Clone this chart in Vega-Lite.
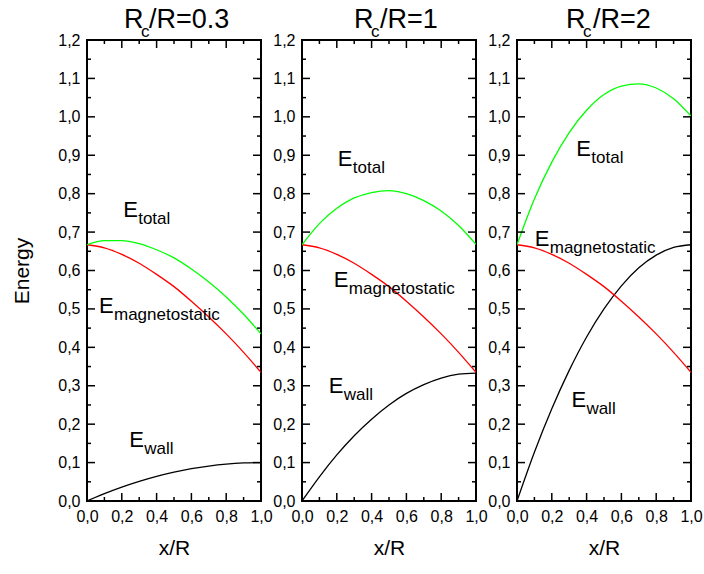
{
  "$schema": "https://vega.github.io/schema/vega-lite/v6.json",
  "background": "white",
  "padding": {"left": 10, "top": 5, "right": 5, "bottom": 5},
  "config": {
    "view": {"stroke": "black", "strokeWidth": 2, "fill": null},
    "font": "Liberation Sans",
    "axis": {
      "labelFont": "Liberation Sans", "titleFont": "Liberation Sans",
      "labelFontSize": 16, "titleFontSize": 21, "titleFontWeight": "normal",
      "labelColor": "black", "titleColor": "black",
      "domain": false, "ticks": false, "tickSize": 0, "grid": false,
      "labelOverlap": false, "labelFlush": false, "labelBound": false
    },
    "text": {"font": "Liberation Sans", "color": "black"}
  },
  "datasets": {
    "curves": [
      {"p":1,"x":0,"wall":0,"mag":0.667,"total":0.667},
      {"p":1,"x":0.1,"wall":0.019,"mag":0.659,"total":0.678},
      {"p":1,"x":0.2,"wall":0.036,"mag":0.642,"total":0.678},
      {"p":1,"x":0.3,"wall":0.051,"mag":0.619,"total":0.670},
      {"p":1,"x":0.4,"wall":0.064,"mag":0.590,"total":0.654},
      {"p":1,"x":0.5,"wall":0.075,"mag":0.558,"total":0.633},
      {"p":1,"x":0.6,"wall":0.084,"mag":0.520,"total":0.604},
      {"p":1,"x":0.7,"wall":0.091,"mag":0.479,"total":0.570},
      {"p":1,"x":0.8,"wall":0.096,"mag":0.435,"total":0.531},
      {"p":1,"x":0.9,"wall":0.099,"mag":0.387,"total":0.486},
      {"p":1,"x":1.0,"wall":0.100,"mag":0.335,"total":0.435},
      {"p":2,"x":0,"wall":0,"mag":0.667,"total":0.667},
      {"p":2,"x":0.1,"wall":0.063,"mag":0.659,"total":0.722},
      {"p":2,"x":0.2,"wall":0.120,"mag":0.642,"total":0.762},
      {"p":2,"x":0.3,"wall":0.170,"mag":0.619,"total":0.789},
      {"p":2,"x":0.4,"wall":0.213,"mag":0.590,"total":0.803},
      {"p":2,"x":0.5,"wall":0.250,"mag":0.558,"total":0.808},
      {"p":2,"x":0.6,"wall":0.280,"mag":0.520,"total":0.800},
      {"p":2,"x":0.7,"wall":0.303,"mag":0.479,"total":0.782},
      {"p":2,"x":0.8,"wall":0.320,"mag":0.435,"total":0.755},
      {"p":2,"x":0.9,"wall":0.330,"mag":0.387,"total":0.717},
      {"p":2,"x":1.0,"wall":0.333,"mag":0.335,"total":0.668},
      {"p":3,"x":0,"wall":0,"mag":0.667,"total":0.667},
      {"p":3,"x":0.1,"wall":0.127,"mag":0.659,"total":0.786},
      {"p":3,"x":0.2,"wall":0.240,"mag":0.642,"total":0.882},
      {"p":3,"x":0.3,"wall":0.340,"mag":0.619,"total":0.959},
      {"p":3,"x":0.4,"wall":0.427,"mag":0.590,"total":1.017},
      {"p":3,"x":0.5,"wall":0.500,"mag":0.558,"total":1.058},
      {"p":3,"x":0.6,"wall":0.560,"mag":0.520,"total":1.080},
      {"p":3,"x":0.7,"wall":0.607,"mag":0.479,"total":1.086},
      {"p":3,"x":0.8,"wall":0.640,"mag":0.435,"total":1.075},
      {"p":3,"x":0.9,"wall":0.660,"mag":0.387,"total":1.047},
      {"p":3,"x":1.0,"wall":0.667,"mag":0.335,"total":1.002}
    ],
    "labels": [
      {"p":1,"sub":"total","x":0.208,"y":0.739},
      {"p":1,"sub":"magnetostatic","x":0.069,"y":0.489},
      {"p":1,"sub":"wall","x":0.243,"y":0.141},
      {"p":2,"sub":"total","x":0.206,"y":0.872},
      {"p":2,"sub":"magnetostatic","x":0.183,"y":0.557},
      {"p":2,"sub":"wall","x":0.154,"y":0.281},
      {"p":3,"sub":"total","x":0.341,"y":0.898},
      {"p":3,"sub":"magnetostatic","x":0.102,"y":0.664},
      {"p":3,"sub":"wall","x":0.3125,"y":0.245}
    ],
    "titles": [
      {"p":1,"rest":"/R=0.3"},
      {"p":2,"rest":"/R=1"},
      {"p":3,"rest":"/R=2"}
    ],
    "xticks": [
      {"v":0.1,"kind":"minor"},{"v":0.2,"kind":"major"},{"v":0.3,"kind":"minor"},{"v":0.4,"kind":"major"},
      {"v":0.5,"kind":"minor"},{"v":0.6,"kind":"major"},{"v":0.7,"kind":"minor"},{"v":0.8,"kind":"major"},
      {"v":0.9,"kind":"minor"}
    ],
    "yticks": [
      {"v":0.05,"kind":"minor"},{"v":0.1,"kind":"major"},{"v":0.15,"kind":"minor"},{"v":0.2,"kind":"major"},
      {"v":0.25,"kind":"minor"},{"v":0.3,"kind":"major"},{"v":0.35,"kind":"minor"},{"v":0.4,"kind":"major"},
      {"v":0.45,"kind":"minor"},{"v":0.5,"kind":"major"},{"v":0.55,"kind":"minor"},{"v":0.6,"kind":"major"},
      {"v":0.65,"kind":"minor"},{"v":0.7,"kind":"major"},{"v":0.75,"kind":"minor"},{"v":0.8,"kind":"major"},
      {"v":0.85,"kind":"minor"},{"v":0.9,"kind":"major"},{"v":0.95,"kind":"minor"},{"v":1.0,"kind":"major"},
      {"v":1.05,"kind":"minor"},{"v":1.1,"kind":"major"},{"v":1.15,"kind":"minor"}
    ]
  },
  "bounds": "flush",
  "spacing": 41,
  "hconcat": [
    {
      "width": 174, "height": 461,
      "resolve": {"axis": {"x": "independent", "y": "independent"}},
      "layer": [
        {
          "data": {"name": "curves"},
          "transform": [{"filter": "datum.p == 1"}, {"fold": ["wall","mag","total"], "as": ["s","y"]}],
          "mark": {"type": "line", "interpolate": "monotone", "strokeWidth": 1.3, "clip": true},
          "encoding": {
            "x": {"field": "x", "type": "quantitative", "scale": {"domain": [0,1], "nice": false, "zero": false},
              "axis": {"orient": "bottom", "values": [0,0.2,0.4,0.6,0.8,1],
                "labelExpr": "replace(format(datum.value,'.1f'),'.',',')",
                "labelPadding": 7, "title": "x/R", "titlePadding": 13}},
            "y": {"field": "y", "type": "quantitative", "scale": {"domain": [0,1.2], "nice": false, "zero": false},
              "axis": {"orient": "left", "values": [0,0.1,0.2,0.3,0.4,0.5,0.6,0.7,0.8,0.9,1,1.1,1.2],
                "labelExpr": "replace(format(datum.value,'.1f'),'.',',')",
                "labelPadding": 7, "title": "Energy", "titlePadding": 25}},
            "color": {"field": "s", "type": "nominal", "scale": {"domain": ["wall","mag","total"], "range": ["#000000","#ff0000","#00ff00"]}, "legend": null}
          }
        },
        {
          "data": {"name": "xticks"},
          "mark": {"type": "tick", "orient": "vertical", "thickness": 1.5, "color": "black", "opacity": 1, "clip": true},
          "encoding": {"x": {"field": "v", "type": "quantitative", "axis": null}, "y": {"datum": 0, "type": "quantitative", "axis": null},
            "size": {"field": "kind", "type": "ordinal", "scale": {"domain": ["major","minor"], "range": [16, 8]}, "legend": null}}
        },
        {
          "data": {"name": "xticks"},
          "mark": {"type": "tick", "orient": "vertical", "thickness": 1.5, "color": "black", "opacity": 1, "clip": true},
          "encoding": {"x": {"field": "v", "type": "quantitative", "axis": null}, "y": {"datum": 1.2, "type": "quantitative", "axis": null},
            "size": {"field": "kind", "type": "ordinal", "scale": {"domain": ["major","minor"], "range": [16, 8]}, "legend": null}}
        },
        {
          "data": {"name": "yticks"},
          "mark": {"type": "tick", "orient": "horizontal", "thickness": 1.5, "color": "black", "opacity": 1, "clip": true},
          "encoding": {"y": {"field": "v", "type": "quantitative", "axis": null}, "x": {"datum": 0, "type": "quantitative", "axis": null},
            "size": {"field": "kind", "type": "ordinal", "scale": {"domain": ["major","minor"], "range": [16, 8]}, "legend": null}}
        },
        {
          "data": {"name": "yticks"},
          "mark": {"type": "tick", "orient": "horizontal", "thickness": 1.5, "color": "black", "opacity": 1, "clip": true},
          "encoding": {"y": {"field": "v", "type": "quantitative", "axis": null}, "x": {"datum": 1, "type": "quantitative", "axis": null},
            "size": {"field": "kind", "type": "ordinal", "scale": {"domain": ["major","minor"], "range": [16, 8]}, "legend": null}}
        },
        {
          "data": {"name": "labels"},
          "transform": [{"filter": "datum.p == 1"}],
          "mark": {"type": "text", "fontSize": 22, "align": "left", "baseline": "alphabetic"},
          "encoding": {"x": {"field": "x", "type": "quantitative", "axis": null}, "y": {"field": "y", "type": "quantitative", "axis": null}, "text": {"value": "E"}}
        },
        {
          "data": {"name": "labels"},
          "transform": [{"filter": "datum.p == 1"}],
          "mark": {"type": "text", "fontSize": 17, "align": "left", "baseline": "alphabetic", "dx": 15, "dy": 7},
          "encoding": {"x": {"field": "x", "type": "quantitative", "axis": null}, "y": {"field": "y", "type": "quantitative", "axis": null}, "text": {"field": "sub"}}
        },
        {
          "data": {"name": "titles"},
          "transform": [{"filter": "datum.p == 1"}],
          "mark": {"type": "text", "fontSize": 27, "align": "left", "baseline": "alphabetic", "dy": -12},
          "encoding": {"x": {"datum": 0.213, "type": "quantitative", "axis": null}, "y": {"datum": 1.2, "type": "quantitative", "axis": null}, "text": {"value": "R"}}
        },
        {
          "data": {"name": "titles"},
          "transform": [{"filter": "datum.p == 1"}],
          "mark": {"type": "text", "fontSize": 17, "align": "left", "baseline": "alphabetic", "dx": 17, "dy": -3},
          "encoding": {"x": {"datum": 0.213, "type": "quantitative", "axis": null}, "y": {"datum": 1.2, "type": "quantitative", "axis": null}, "text": {"value": "c"}}
        },
        {
          "data": {"name": "titles"},
          "transform": [{"filter": "datum.p == 1"}],
          "mark": {"type": "text", "fontSize": 27, "align": "left", "baseline": "alphabetic", "dx": 25, "dy": -12},
          "encoding": {"x": {"datum": 0.213, "type": "quantitative", "axis": null}, "y": {"datum": 1.2, "type": "quantitative", "axis": null}, "text": {"field": "rest"}}
        }
      ]
    },
    {
      "width": 174, "height": 461,
      "resolve": {"axis": {"x": "independent", "y": "independent"}},
      "layer": [
        {
          "data": {"name": "curves"},
          "transform": [{"filter": "datum.p == 2"}, {"fold": ["wall","mag","total"], "as": ["s","y"]}],
          "mark": {"type": "line", "interpolate": "monotone", "strokeWidth": 1.3, "clip": true},
          "encoding": {
            "x": {"field": "x", "type": "quantitative", "scale": {"domain": [0,1], "nice": false, "zero": false},
              "axis": {"orient": "bottom", "values": [0,0.2,0.4,0.6,0.8,1],
                "labelExpr": "replace(format(datum.value,'.1f'),'.',',')",
                "labelPadding": 7, "title": "x/R", "titlePadding": 13}},
            "y": {"field": "y", "type": "quantitative", "scale": {"domain": [0,1.2], "nice": false, "zero": false},
              "axis": {"orient": "left", "values": [0,0.1,0.2,0.3,0.4,0.5,0.6,0.7,0.8,0.9,1,1.1,1.2],
                "labelExpr": "replace(format(datum.value,'.1f'),'.',',')",
                "labelPadding": 7, "title": null}},
            "color": {"field": "s", "type": "nominal", "scale": {"domain": ["wall","mag","total"], "range": ["#000000","#ff0000","#00ff00"]}, "legend": null}
          }
        },
        {
          "data": {"name": "xticks"},
          "mark": {"type": "tick", "orient": "vertical", "thickness": 1.5, "color": "black", "opacity": 1, "clip": true},
          "encoding": {"x": {"field": "v", "type": "quantitative", "axis": null}, "y": {"datum": 0, "type": "quantitative", "axis": null},
            "size": {"field": "kind", "type": "ordinal", "scale": {"domain": ["major","minor"], "range": [16, 8]}, "legend": null}}
        },
        {
          "data": {"name": "xticks"},
          "mark": {"type": "tick", "orient": "vertical", "thickness": 1.5, "color": "black", "opacity": 1, "clip": true},
          "encoding": {"x": {"field": "v", "type": "quantitative", "axis": null}, "y": {"datum": 1.2, "type": "quantitative", "axis": null},
            "size": {"field": "kind", "type": "ordinal", "scale": {"domain": ["major","minor"], "range": [16, 8]}, "legend": null}}
        },
        {
          "data": {"name": "yticks"},
          "mark": {"type": "tick", "orient": "horizontal", "thickness": 1.5, "color": "black", "opacity": 1, "clip": true},
          "encoding": {"y": {"field": "v", "type": "quantitative", "axis": null}, "x": {"datum": 0, "type": "quantitative", "axis": null},
            "size": {"field": "kind", "type": "ordinal", "scale": {"domain": ["major","minor"], "range": [16, 8]}, "legend": null}}
        },
        {
          "data": {"name": "yticks"},
          "mark": {"type": "tick", "orient": "horizontal", "thickness": 1.5, "color": "black", "opacity": 1, "clip": true},
          "encoding": {"y": {"field": "v", "type": "quantitative", "axis": null}, "x": {"datum": 1, "type": "quantitative", "axis": null},
            "size": {"field": "kind", "type": "ordinal", "scale": {"domain": ["major","minor"], "range": [16, 8]}, "legend": null}}
        },
        {
          "data": {"name": "labels"},
          "transform": [{"filter": "datum.p == 2"}],
          "mark": {"type": "text", "fontSize": 22, "align": "left", "baseline": "alphabetic"},
          "encoding": {"x": {"field": "x", "type": "quantitative", "axis": null}, "y": {"field": "y", "type": "quantitative", "axis": null}, "text": {"value": "E"}}
        },
        {
          "data": {"name": "labels"},
          "transform": [{"filter": "datum.p == 2"}],
          "mark": {"type": "text", "fontSize": 17, "align": "left", "baseline": "alphabetic", "dx": 15, "dy": 7},
          "encoding": {"x": {"field": "x", "type": "quantitative", "axis": null}, "y": {"field": "y", "type": "quantitative", "axis": null}, "text": {"field": "sub"}}
        },
        {
          "data": {"name": "titles"},
          "transform": [{"filter": "datum.p == 2"}],
          "mark": {"type": "text", "fontSize": 27, "align": "left", "baseline": "alphabetic", "dy": -12},
          "encoding": {"x": {"datum": 0.299, "type": "quantitative", "axis": null}, "y": {"datum": 1.2, "type": "quantitative", "axis": null}, "text": {"value": "R"}}
        },
        {
          "data": {"name": "titles"},
          "transform": [{"filter": "datum.p == 2"}],
          "mark": {"type": "text", "fontSize": 17, "align": "left", "baseline": "alphabetic", "dx": 17, "dy": -3},
          "encoding": {"x": {"datum": 0.299, "type": "quantitative", "axis": null}, "y": {"datum": 1.2, "type": "quantitative", "axis": null}, "text": {"value": "c"}}
        },
        {
          "data": {"name": "titles"},
          "transform": [{"filter": "datum.p == 2"}],
          "mark": {"type": "text", "fontSize": 27, "align": "left", "baseline": "alphabetic", "dx": 26, "dy": -12},
          "encoding": {"x": {"datum": 0.299, "type": "quantitative", "axis": null}, "y": {"datum": 1.2, "type": "quantitative", "axis": null}, "text": {"field": "rest"}}
        }
      ]
    },
    {
      "width": 174, "height": 461,
      "resolve": {"axis": {"x": "independent", "y": "independent"}},
      "layer": [
        {
          "data": {"name": "curves"},
          "transform": [{"filter": "datum.p == 3"}, {"fold": ["wall","mag","total"], "as": ["s","y"]}],
          "mark": {"type": "line", "interpolate": "monotone", "strokeWidth": 1.3, "clip": true},
          "encoding": {
            "x": {"field": "x", "type": "quantitative", "scale": {"domain": [0,1], "nice": false, "zero": false},
              "axis": {"orient": "bottom", "values": [0,0.2,0.4,0.6,0.8,1],
                "labelExpr": "replace(format(datum.value,'.1f'),'.',',')",
                "labelPadding": 7, "title": "x/R", "titlePadding": 13}},
            "y": {"field": "y", "type": "quantitative", "scale": {"domain": [0,1.2], "nice": false, "zero": false},
              "axis": {"orient": "left", "values": [0,0.1,0.2,0.3,0.4,0.5,0.6,0.7,0.8,0.9,1,1.1,1.2],
                "labelExpr": "replace(format(datum.value,'.1f'),'.',',')",
                "labelPadding": 7, "title": null}},
            "color": {"field": "s", "type": "nominal", "scale": {"domain": ["wall","mag","total"], "range": ["#000000","#ff0000","#00ff00"]}, "legend": null}
          }
        },
        {
          "data": {"name": "xticks"},
          "mark": {"type": "tick", "orient": "vertical", "thickness": 1.5, "color": "black", "opacity": 1, "clip": true},
          "encoding": {"x": {"field": "v", "type": "quantitative", "axis": null}, "y": {"datum": 0, "type": "quantitative", "axis": null},
            "size": {"field": "kind", "type": "ordinal", "scale": {"domain": ["major","minor"], "range": [16, 8]}, "legend": null}}
        },
        {
          "data": {"name": "xticks"},
          "mark": {"type": "tick", "orient": "vertical", "thickness": 1.5, "color": "black", "opacity": 1, "clip": true},
          "encoding": {"x": {"field": "v", "type": "quantitative", "axis": null}, "y": {"datum": 1.2, "type": "quantitative", "axis": null},
            "size": {"field": "kind", "type": "ordinal", "scale": {"domain": ["major","minor"], "range": [16, 8]}, "legend": null}}
        },
        {
          "data": {"name": "yticks"},
          "mark": {"type": "tick", "orient": "horizontal", "thickness": 1.5, "color": "black", "opacity": 1, "clip": true},
          "encoding": {"y": {"field": "v", "type": "quantitative", "axis": null}, "x": {"datum": 0, "type": "quantitative", "axis": null},
            "size": {"field": "kind", "type": "ordinal", "scale": {"domain": ["major","minor"], "range": [16, 8]}, "legend": null}}
        },
        {
          "data": {"name": "yticks"},
          "mark": {"type": "tick", "orient": "horizontal", "thickness": 1.5, "color": "black", "opacity": 1, "clip": true},
          "encoding": {"y": {"field": "v", "type": "quantitative", "axis": null}, "x": {"datum": 1, "type": "quantitative", "axis": null},
            "size": {"field": "kind", "type": "ordinal", "scale": {"domain": ["major","minor"], "range": [16, 8]}, "legend": null}}
        },
        {
          "data": {"name": "labels"},
          "transform": [{"filter": "datum.p == 3"}],
          "mark": {"type": "text", "fontSize": 22, "align": "left", "baseline": "alphabetic"},
          "encoding": {"x": {"field": "x", "type": "quantitative", "axis": null}, "y": {"field": "y", "type": "quantitative", "axis": null}, "text": {"value": "E"}}
        },
        {
          "data": {"name": "labels"},
          "transform": [{"filter": "datum.p == 3"}],
          "mark": {"type": "text", "fontSize": 17, "align": "left", "baseline": "alphabetic", "dx": 15, "dy": 7},
          "encoding": {"x": {"field": "x", "type": "quantitative", "axis": null}, "y": {"field": "y", "type": "quantitative", "axis": null}, "text": {"field": "sub"}}
        },
        {
          "data": {"name": "titles"},
          "transform": [{"filter": "datum.p == 3"}],
          "mark": {"type": "text", "fontSize": 27, "align": "left", "baseline": "alphabetic", "dy": -12},
          "encoding": {"x": {"datum": 0.282, "type": "quantitative", "axis": null}, "y": {"datum": 1.2, "type": "quantitative", "axis": null}, "text": {"value": "R"}}
        },
        {
          "data": {"name": "titles"},
          "transform": [{"filter": "datum.p == 3"}],
          "mark": {"type": "text", "fontSize": 17, "align": "left", "baseline": "alphabetic", "dx": 17, "dy": -3},
          "encoding": {"x": {"datum": 0.282, "type": "quantitative", "axis": null}, "y": {"datum": 1.2, "type": "quantitative", "axis": null}, "text": {"value": "c"}}
        },
        {
          "data": {"name": "titles"},
          "transform": [{"filter": "datum.p == 3"}],
          "mark": {"type": "text", "fontSize": 27, "align": "left", "baseline": "alphabetic", "dx": 27, "dy": -12},
          "encoding": {"x": {"datum": 0.282, "type": "quantitative", "axis": null}, "y": {"datum": 1.2, "type": "quantitative", "axis": null}, "text": {"field": "rest"}}
        }
      ]
    }
  ]
}
